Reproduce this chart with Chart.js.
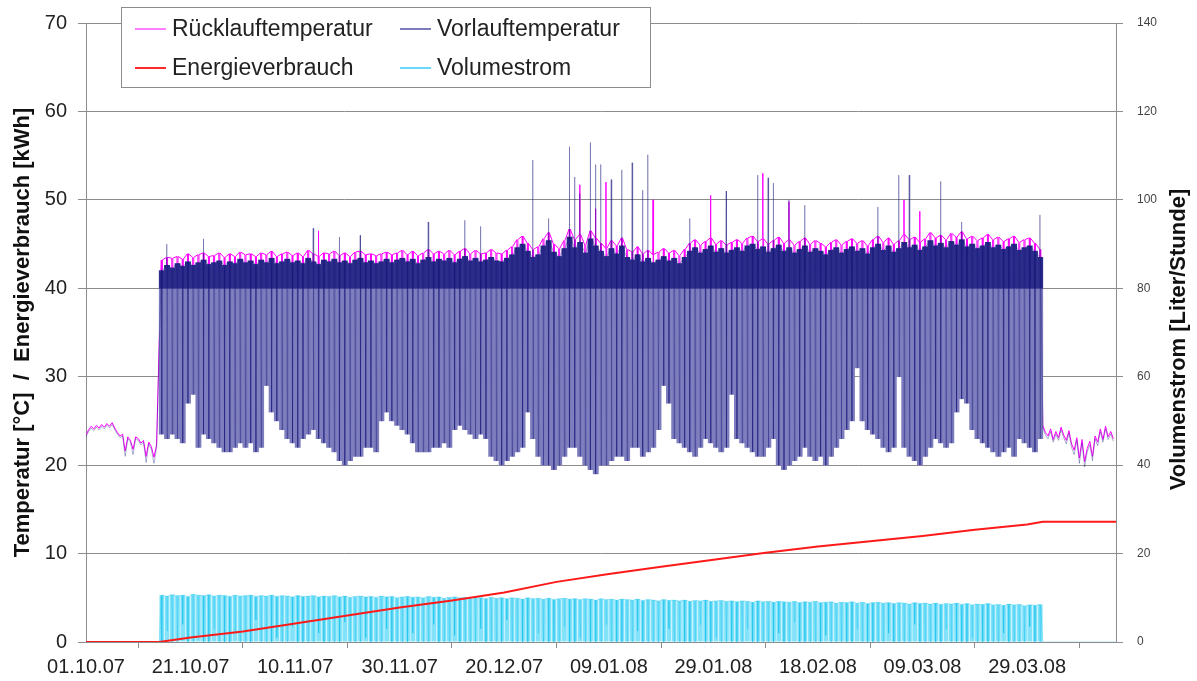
<!DOCTYPE html>
<html lang="de">
<head>
<meta charset="UTF-8">
<title>Vorlauf, Rücklauf, Energieverbrauch und Volumenstrom</title>
<script src="https://cdn.jsdelivr.net/npm/chart.js"></script>
<style>
  html, body { margin: 0; padding: 0; background: #fff; }
  .chart-container { width: 1197px; height: 681px; }
</style>
</head>
<body>
<div class="chart-container">
  <canvas id="heatChart" width="1197" height="681"></canvas>
</div>
<script>
// x axis: days since 01.10.07
const tickDays = [0, 20, 40, 60, 80, 100, 120, 140, 160, 180];
const tickLabels = ["01.10.07", "21.10.07", "10.11.07", "30.11.07", "20.12.07",
                    "09.01.08", "29.01.08", "18.02.08", "09.03.08", "29.03.08"];
const lastDay = 197;

// before / after the heating period: half-day readings
const preStart = 0;
const postStart = 183;
const offStep = 0.5;
const preVor = [23.2, 23.8, 24.2, 23.9, 24.3, 24.0, 24.4, 24.1, 24.5, 24.2, 24.6, 24.0, 23.5, 23.1,
                23.3, 21.0, 23.0, 22.6, 21.2, 23.0, 22.8, 22.3, 22.6, 20.3, 22.4, 21.8, 20.2, 22.0];
const preRue = [23.4, 24.0, 24.4, 24.1, 24.5, 24.2, 24.6, 24.3, 24.7, 24.4, 24.8, 24.2, 23.7, 23.3,
                23.5, 21.6, 23.2, 22.8, 21.8, 23.2, 23.0, 22.5, 22.8, 21.0, 22.6, 22.1, 20.9, 22.3];
const postVor = [24.2, 23.4, 23.0, 23.8, 22.6, 23.5, 22.8, 24.0, 23.1, 22.4, 23.6, 22.0, 21.2, 22.8,
                 20.2, 22.5, 19.8, 21.5, 22.3, 20.5, 23.0, 22.2, 23.8, 22.6, 24.1, 22.9, 23.5, 22.7];
const postRue = [24.5, 23.7, 23.3, 24.1, 22.9, 23.8, 23.1, 24.3, 23.4, 22.8, 23.9, 22.4, 21.7, 23.1,
                 20.8, 22.9, 20.4, 21.9, 22.7, 21.0, 23.3, 22.6, 24.1, 22.9, 24.4, 23.2, 23.8, 23.0];

// heating period: one entry per day, day 14 .. day 182
const heatStart = 14;
const vorHi = [
  42.0, 42.6, 42.3, 42.8, 42.5, 43.0, 42.6, 42.9, 43.2, 42.7,
  42.9, 43.1, 42.6, 43.0, 42.8, 43.3, 42.9, 43.1, 42.7, 43.2,
  42.9, 43.4, 42.8, 43.0, 43.3, 42.9, 43.1, 42.8, 43.4, 43.0,
  42.7, 43.2, 43.0, 43.3, 42.9, 43.1, 42.8, 43.2, 43.4, 42.9,
  43.1, 42.8, 43.0, 43.3, 42.9, 43.2, 43.4, 43.0, 43.3, 42.8,
  43.2, 43.5, 43.0, 43.3, 43.1, 43.4, 42.9, 43.3, 43.6, 43.1,
  43.4, 43.0, 43.2, 43.5, 43.1, 43.0, 43.4, 43.8, 44.6, 45.0,
  44.2, 43.5, 43.8, 44.8, 45.4, 44.1, 43.6, 44.5, 45.8, 44.6,
  45.2, 44.0, 45.6, 44.8, 44.2, 43.6, 44.5, 43.9, 44.8, 43.5,
  43.2, 43.8, 43.0, 43.4, 42.9, 43.2, 43.6, 43.1, 43.4, 42.8,
  43.5, 44.2, 44.6, 44.0, 44.4, 44.8, 44.1, 44.5, 44.0, 44.3,
  44.6, 44.2, 44.8, 45.0, 44.4, 44.7, 44.1, 44.5, 44.9, 44.2,
  44.6, 44.0, 44.4, 44.8, 44.1, 44.5, 44.2, 43.8, 44.3, 44.6,
  44.0, 44.4, 44.7, 44.2, 44.5, 43.9, 44.6, 45.0, 44.3, 44.8,
  44.1, 44.5, 45.2, 44.6, 44.9, 44.3, 44.7, 45.4, 44.8, 45.1,
  44.6, 45.3, 44.9, 45.5, 44.7, 45.0, 44.5, 44.8, 45.2, 44.6,
  44.9, 44.4, 44.7, 45.0, 44.3, 44.6, 44.8, 44.2, 43.5
];
const vorLo = [
  23.5, 23, 23.5, 23, 22.5, 27, 28, 22, 23.5, 23,
  22.5, 22, 21.5, 21.5, 22, 22.5, 22, 22.5, 21.5, 22,
  29, 26, 25, 24, 23, 22.5, 22, 23, 23.5, 24,
  23, 22.5, 22, 21.5, 20.5, 20, 20.5, 21, 21, 22,
  22, 21.5, 25, 26, 25, 24.5, 24, 23.5, 22.5, 21.5,
  21.5, 21.5, 22, 22, 22.5, 22, 24, 24.5, 24, 23.5,
  23, 23.5, 23, 21, 20.5, 20, 20.5, 21, 21.5, 22,
  26, 23, 21, 20, 20, 19.5, 20, 21, 22, 22,
  21, 20, 19.5, 19, 20, 20, 20.5, 21, 21, 20.5,
  22, 22, 21, 21.5, 22, 24, 29, 27, 23, 22.5,
  22, 21.5, 21, 22, 23, 22.5, 22, 21.5, 22, 28,
  23, 22.5, 22, 21.5, 21, 21, 22, 23, 20, 19.5,
  20, 20.5, 21, 22, 21, 20.5, 21, 20, 21, 22,
  23, 24, 25, 31, 25, 24, 23.5, 23, 22, 21.5,
  22, 30, 22, 21, 20.5, 20, 21, 22, 23, 22.5,
  22, 22.5, 26, 27.5, 27, 24, 23, 22.5, 22, 21.5,
  21, 21.5, 22, 21, 23, 22.5, 22, 21.5, 23
];
const rueHi = [
  43.2, 43.5, 43.4, 43.6, 43.3, 43.9, 43.5, 43.8, 44.0, 43.6,
  43.7, 44.0, 43.5, 43.9, 43.6, 44.1, 43.8, 43.9, 43.6, 44.0,
  43.8, 44.2, 43.6, 43.9, 44.1, 43.7, 44.0, 43.6, 44.3, 43.9,
  43.6, 44.0, 43.9, 44.2, 43.7, 44.0, 43.6, 44.1, 44.2, 43.8,
  43.9, 43.7, 43.9, 44.1, 43.8, 44.0, 44.3, 43.8, 44.2, 43.7,
  44.0, 44.4, 43.9, 44.2, 43.9, 44.3, 43.8, 44.2, 44.5, 43.9,
  44.3, 43.9, 44.0, 44.4, 44.0, 43.9, 44.3, 44.7, 45.5, 45.9,
  45.1, 44.4, 44.7, 45.6, 46.3, 45.0, 44.5, 45.4, 46.7, 45.5,
  46.1, 44.9, 46.5, 45.7, 45.1, 44.5, 45.4, 44.8, 45.7, 44.4,
  44.1, 44.7, 43.9, 44.3, 43.8, 44.1, 44.5, 44.0, 44.3, 43.7,
  44.4, 45.1, 45.5, 44.9, 45.3, 45.7, 45.0, 45.4, 44.9, 45.2,
  45.5, 45.1, 45.7, 45.9, 45.3, 45.6, 45.0, 45.4, 45.8, 45.1,
  45.5, 44.9, 45.3, 45.7, 45.0, 45.4, 45.1, 44.7, 45.2, 45.5,
  44.9, 45.3, 45.6, 45.1, 45.4, 44.8, 45.5, 45.9, 45.2, 45.7,
  45.0, 45.4, 46.1, 45.5, 45.8, 45.2, 45.6, 46.3, 45.7, 46.0,
  45.5, 46.2, 45.8, 46.4, 45.6, 45.9, 45.4, 45.7, 46.1, 45.5,
  45.8, 45.3, 45.6, 45.9, 45.2, 45.5, 45.7, 45.1, 44.4
];
const rueLo = [
  24.2, 23.8, 24.3, 23.9, 23.4, 27.8, 28.6, 23.0, 24.3, 23.8,
  23.4, 22.9, 22.5, 22.4, 22.9, 23.3, 22.9, 23.4, 22.5, 22.8,
  29.8, 26.9, 25.8, 24.9, 23.9, 23.4, 22.9, 23.8, 24.4, 24.8,
  23.9, 23.3, 22.9, 22.4, 21.5, 21.0, 21.4, 21.9, 21.8, 22.9,
  22.8, 22.4, 25.8, 26.9, 25.9, 25.3, 24.9, 24.4, 23.4, 22.5,
  22.4, 22.3, 22.9, 22.8, 23.4, 22.9, 24.8, 25.4, 24.9, 24.3,
  23.9, 24.4, 23.8, 21.9, 21.4, 20.9, 21.4, 21.9, 22.4, 22.9,
  26.9, 23.8, 21.9, 20.9, 20.8, 20.4, 20.9, 21.9, 22.8, 22.9,
  21.9, 20.9, 20.4, 19.9, 20.9, 20.8, 21.4, 21.9, 21.8, 21.4,
  22.9, 22.8, 21.9, 22.4, 22.8, 24.9, 29.8, 27.9, 23.9, 23.4,
  22.9, 22.4, 21.9, 22.8, 23.9, 23.4, 22.8, 22.4, 22.9, 28.8,
  23.9, 23.4, 22.9, 22.4, 21.9, 21.8, 22.9, 23.8, 20.9, 20.4,
  20.9, 21.4, 21.9, 22.8, 21.9, 21.4, 21.8, 20.9, 21.9, 22.8,
  23.9, 24.8, 25.9, 31.8, 25.9, 24.9, 24.4, 23.8, 22.9, 22.4,
  22.8, 30.9, 22.9, 21.9, 21.4, 20.9, 21.8, 22.9, 23.8, 23.4,
  22.9, 23.4, 26.9, 28.4, 27.8, 24.9, 23.9, 23.4, 22.9, 22.4,
  21.9, 22.4, 22.9, 21.9, 23.9, 23.4, 22.8, 22.4, 23.8
];
// single short peaks above the daily plateau
const vorSpikeDays = [15, 22, 43, 48, 52, 65, 72, 75, 85, 88, 92, 93, 94, 96, 97, 98, 100,
                      102, 104, 106, 107, 115, 122, 128, 130, 131, 134, 137, 151, 155, 157, 163, 167, 182];
const vorSpikeVals = [45, 45.6, 46.8, 45.8, 46, 47.5, 47.7, 47, 54.5, 47.9, 56, 52.6, 50.7, 56.5, 54, 54, 52.3,
                      53.4, 54.2, 51.1, 55.1, 47.9, 51, 52.8, 52.5, 51.9, 50, 49.4, 49.2, 52.8, 52.8, 52.1, 47.5, 48.3];
const rueSpikeDays = [44, 94, 97, 99, 108, 119, 129, 134, 156, 159];
const rueSpikeVals = [46.5, 51.7, 49, 52, 50, 50.5, 53, 49.8, 50, 48.7];

// Volumenstrom (l/h), right axis
const volHi = [
  10.6, 10.4, 10.7, 10.5, 10.6, 10.3, 10.8, 10.6, 10.5, 10.7,
  10.4, 10.6, 10.5, 10.3, 10.6, 10.4, 10.5, 10.6, 10.3, 10.5,
  10.4, 10.6, 10.3, 10.5, 10.4, 10.2, 10.5, 10.3, 10.4, 10.5,
  10.2, 10.4, 10.3, 10.5, 10.2, 10.4, 10.1, 10.3, 10.4, 10.2,
  10.3, 10.1, 10.4, 10.2, 10.3, 10.0, 10.2, 10.3, 10.1, 10.2,
  10.0, 10.3, 10.1, 10.2, 9.9, 10.1, 10.2, 10.0, 10.1, 9.9,
  10.1, 10.0, 9.8, 10.1, 9.9, 10.0, 9.8, 10.0, 9.9, 9.7,
  10.0, 9.8, 9.9, 9.7, 9.9, 9.6, 9.8, 9.9, 9.7, 9.8,
  9.6, 9.8, 9.7, 9.5, 9.8, 9.6, 9.7, 9.5, 9.7, 9.6,
  9.5, 9.7, 9.4, 9.6, 9.5, 9.3, 9.6, 9.4, 9.5, 9.3,
  9.5, 9.2, 9.4, 9.3, 9.5, 9.2, 9.3, 9.4, 9.2, 9.3,
  9.1, 9.3, 9.2, 9.0, 9.3, 9.1, 9.2, 9.0, 9.2, 9.1,
  9.0, 9.2, 8.9, 9.1, 9.0, 9.2, 8.9, 9.0, 9.1, 8.8,
  9.0, 8.9, 9.1, 8.8, 9.0, 8.7, 8.9, 9.0, 8.8, 8.9,
  8.7, 8.9, 8.8, 8.6, 8.9, 8.7, 8.8, 8.6, 8.8, 8.5,
  8.7, 8.6, 8.8, 8.5, 8.7, 8.4, 8.6, 8.5, 8.7, 8.4,
  8.5, 8.3, 8.6, 8.4, 8.5, 8.2, 8.4, 8.3, 8.5
];
const volLo = [
  0, 2.5, 0, 0, 4, 0, 0, 1.5, 0, 0,
  3, 0, 0, 0, 2, 0, 0, 0, 5, 0,
  0, 0, 1, 0, 0, 3.5, 0, 0, 0, 0,
  2, 0, 0, 0, 0, 4.5, 0, 0, 0, 1,
  0, 0, 0, 3, 0, 0, 0, 0, 2, 0,
  0, 0, 4, 0, 0, 0, 1.5, 0, 0, 0,
  0, 3, 0, 0, 0, 0, 5, 0, 0, 0,
  0, 0, 2, 0, 0, 0, 0, 3.5, 0, 0,
  1, 0, 0, 0, 0, 4, 0, 0, 0, 0,
  0, 2.5, 0, 0, 0, 0, 0, 3, 0, 0,
  0, 0, 0, 4, 0, 0, 1, 0, 0, 0,
  0, 0, 3, 0, 0, 0, 0, 0, 2, 0,
  0, 4.5, 0, 0, 0, 0, 0, 1.5, 0, 0,
  0, 0, 0, 3, 0, 0, 0, 0, 0, 2,
  0, 0, 0, 0, 4, 0, 0, 0, 0, 0,
  3, 0, 0, 0, 0, 1, 0, 0, 0, 0,
  0, 2, 0, 0, 0, 0, 3.5, 0, 0
];
const volOffDays = [0, 14, 183, 197];
const volOffVals = [0, 0, 0, 0];

// Energieverbrauch (kWh), cumulative
const energyDays = [0, 14, 20, 30, 40, 50, 60, 70, 80, 90, 100, 110, 120, 130, 140, 150, 160, 170, 180, 183, 197];
const energyVals = [0, 0, 0.5, 1.2, 2.1, 3.0, 3.9, 4.7, 5.6, 6.8, 7.7, 8.5, 9.3, 10.1, 10.8, 11.4, 12.0, 12.7, 13.3, 13.6, 13.6];

// dense daytime band starts here (°C)
const denseBase = 40;

// ---- build point lists ----
function tempLine(pre, hi, lo, spikeDays, spikeVals, post) {
  const pts = [];
  pre.forEach((v, i) => pts.push({x: preStart + i * offStep, y: v}));
  lo.forEach((low, i) => {
    const d = heatStart + i;
    pts.push({x: d + 0.4, y: hi[i]});
    const s = spikeDays.indexOf(d);
    if (s >= 0) pts.push({x: d + 0.45, y: spikeVals[s]});
    pts.push({x: d + 0.5, y: low});
    pts.push({x: d + 0.6, y: hi[i]});
  });
  post.forEach((v, i) => pts.push({x: postStart + i * offStep, y: v}));
  return pts;
}

const vorPoints = tempLine(preVor, vorHi, vorLo, vorSpikeDays, vorSpikeVals, postVor);
const ruePoints = tempLine(preRue, rueHi, rueLo, rueSpikeDays, rueSpikeVals, postRue);
const bandBars = vorLo.map((lo, i) => ({x: heatStart + i + 0.5, y: [lo, denseBase]}));
const topBars = vorHi.map((hi, i) => ({x: heatStart + i + 0.5, y: [denseBase, hi]}));
const volBars = volHi.map((v, i) => ({x: heatStart + i + 0.5, y: v}));

const volPoints = [{x: volOffDays[0], y: volOffVals[0]}, {x: volOffDays[1], y: volOffVals[1]}];
volLo.forEach((low, i) => {
  const d = heatStart + i;
  volPoints.push({x: d + 0.4, y: volHi[i]});
  volPoints.push({x: d + 0.5, y: low});
  volPoints.push({x: d + 0.6, y: volHi[i]});
});
volPoints.push({x: volOffDays[2], y: volOffVals[2]}, {x: volOffDays[3], y: volOffVals[3]});

const energyPoints = energyDays.map((d, i) => ({x: d, y: energyVals[i]}));

// legend in a framed box + right axis title (reads bottom to top)
const boxLegend = {
  id: 'boxLegend',
  afterDraw(chart) {
    const ctx = chart.ctx;
    const items = chart.data.datasets
      .filter(ds => ds.legendSlot !== undefined)
      .sort((a, b) => a.legendSlot - b.legendSlot);
    ctx.save();
    ctx.fillStyle = '#ffffff';
    ctx.fillRect(121, 7, 530, 81);
    ctx.strokeStyle = '#8c8c8c';
    ctx.lineWidth = 1;
    ctx.strokeRect(121.5, 7.5, 529, 80);
    ctx.font = '23px "Liberation Sans", Arial, sans-serif';
    ctx.textBaseline = 'middle';
    items.forEach((ds, i) => {
      const x = i % 2 === 0 ? 135 : 400;
      const y = i < 2 ? 29 : 68;
      ctx.strokeStyle = ds.legendColor;
      ctx.lineWidth = 2;
      ctx.beginPath();
      ctx.moveTo(x, y);
      ctx.lineTo(x + 31, y);
      ctx.stroke();
      ctx.fillStyle = '#222';
      ctx.fillText(ds.label, x + 37, y + 1);
    });

    const y2 = chart.scales.y2;
    ctx.translate(1179, (y2.top + y2.bottom) / 2 + 7);
    ctx.rotate(-Math.PI / 2);
    ctx.font = 'bold 22px "Liberation Sans", Arial, sans-serif';
    ctx.textAlign = 'center';
    ctx.fillStyle = '#111';
    ctx.fillText('Volumenstrom [Liter/Stunde]', 0, 0);
    ctx.restore();
  }
};

const axisGray = '#8c8c8c';
const ctx = document.getElementById('heatChart').getContext('2d');

new Chart(ctx, {
  type: 'line',
  data: {
    datasets: [
      {
        label: 'Rücklauftemperatur',
        data: ruePoints,
        yAxisID: 'y',
        borderColor: '#ff00ff',
        borderWidth: 1,
        borderJoinStyle: 'bevel',
        pointRadius: 0,
        order: 7,
        legendSlot: 0,
        legendColor: '#ff80ff'
      },
      {
        type: 'bar',
        label: 'Vorlauf Tagesband',
        data: bandBars,
        yAxisID: 'y',
        backgroundColor: 'rgb(126,126,190)',
        borderWidth: 0,
        grouped: false,
        barPercentage: 1,
        categoryPercentage: 1,
        order: 6
      },
      {
        type: 'bar',
        label: 'Vorlauf Tagesniveau',
        data: topBars,
        yAxisID: 'y',
        backgroundColor: 'rgb(44,44,138)',
        borderWidth: 0,
        grouped: false,
        barPercentage: 1,
        categoryPercentage: 1,
        order: 5
      },
      {
        label: 'Vorlauftemperatur',
        data: vorPoints,
        yAxisID: 'y',
        borderColor: 'rgba(20,20,120,0.35)',
        borderWidth: 1,
        borderJoinStyle: 'bevel',
        pointRadius: 0,
        order: 4,
        legendSlot: 1,
        legendColor: '#7b7bbd'
      },
      {
        type: 'bar',
        label: 'Volumestrom Band',
        data: volBars,
        yAxisID: 'y2',
        backgroundColor: 'rgb(130,226,250)',
        borderWidth: 0,
        grouped: false,
        barPercentage: 0.9,
        categoryPercentage: 1,
        order: 3
      },
      {
        label: 'Volumestrom',
        data: volPoints,
        yAxisID: 'y2',
        borderColor: 'rgba(0,190,235,0.3)',
        borderWidth: 1,
        borderJoinStyle: 'bevel',
        pointRadius: 0,
        order: 2,
        legendSlot: 3,
        legendColor: '#6ad8ff'
      },
      {
        label: 'Energieverbrauch',
        data: energyPoints,
        yAxisID: 'y',
        borderColor: '#ff1a1a',
        borderWidth: 2,
        pointRadius: 0,
        order: 1,
        legendSlot: 2,
        legendColor: '#ff2a2a'
      }
    ]
  },
  options: {
    responsive: false,
    animation: false,
    devicePixelRatio: 1,
    events: [],
    layout: { padding: { top: 22, right: 0, bottom: 0, left: 0 } },
    plugins: {
      legend: { display: false },
      tooltip: { enabled: false }
    },
    scales: {
      x: {
        type: 'linear',
        min: 0,
        max: lastDay,
        offset: false,
        afterBuildTicks: scale => { scale.ticks = tickDays.map(v => ({ value: v })); },
        afterFit: scale => { scale.height = 39; },
        grid: { drawOnChartArea: false, tickLength: 6, color: axisGray },
        border: { color: axisGray },
        ticks: {
          autoSkip: false,
          maxRotation: 0,
          padding: 7,
          color: '#222',
          font: { family: '"Liberation Sans", Arial, sans-serif', size: 20 },
          callback: value => tickLabels[tickDays.indexOf(value)]
        }
      },
      y: {
        position: 'left',
        min: 0,
        max: 70,
        afterFit: scale => { scale.width = 86; },
        grid: { color: axisGray, tickLength: 8 },
        border: { color: axisGray },
        ticks: {
          stepSize: 10,
          padding: 11,
          color: '#222',
          font: { family: '"Liberation Sans", Arial, sans-serif', size: 20 }
        },
        title: {
          display: true,
          text: 'Temperatur [°C]  /  Energieverbrauch [kWh]',
          color: '#111',
          padding: { top: 10, bottom: 0 },
          font: { family: '"Liberation Sans", Arial, sans-serif', size: 22, weight: 'bold' }
        }
      },
      y2: {
        position: 'right',
        min: 0,
        max: 140,
        afterFit: scale => { scale.width = 81; },
        grid: { drawOnChartArea: false, color: axisGray, tickLength: 7 },
        border: { color: axisGray },
        ticks: {
          stepSize: 20,
          padding: 14,
          color: '#444',
          font: { family: '"Liberation Sans", Arial, sans-serif', size: 12 }
        }
      }
    }
  },
  plugins: [boxLegend]
});
</script>
</body>
</html>
